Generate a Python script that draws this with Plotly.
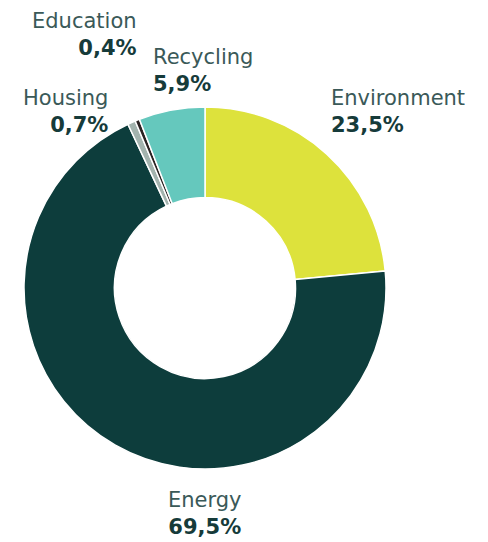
import plotly.graph_objects as go

categories = ["Environment", "Energy", "Housing", "Education", "Recycling"]
values = [23.5, 69.5, 0.7, 0.4, 5.9]
value_labels = ["23,5%", "69,5%", "0,7%", "0,4%", "5,9%"]
colors = ["#dde23c", "#0d3d3c", "#a3b3ae", "#2a2222", "#65c8bd"]

# page body has an 8px margin; figure fills the rest of the 488x542 window
OFF = 8
W, H = 488 - OFF, 542 - OFF


def fx(sx):
    return (sx - OFF) / W


def fy(sy):
    return 1 - (sy - OFF) / H


fig = go.Figure(go.Pie(
    labels=categories, values=values, sort=False, direction="clockwise",
    rotation=0, hole=0.5, textinfo="none", hoverinfo="label+percent",
    marker=dict(colors=colors, line=dict(color="white", width=1.5)),
    domain=dict(x=[fx(24), fx(386)], y=[fy(469), fy(107)]),
    showlegend=False,
))

# label placements in screen px: (index, x, y of first line center, anchor)
placements = [
    (0, 330, 97, "left"),
    (1, 205, 499, "center"),
    (2, 109, 97, "right"),
    (3, 138, 20, "right"),
    (4, 152, 56, "left"),
]
name_color = "#3a5958"
val_color = "#163b3a"
for i, px, py, anc in placements:
    fig.add_annotation(
        x=fx(px), y=fy(py + 14), xref="paper", yref="paper",
        xanchor=anc, yanchor="middle", align=anc, showarrow=False,
        borderpad=0,
        text=f"<span style='color:{name_color}'>{categories[i]}</span><br>"
             f"<b style='color:{val_color}'>{value_labels[i]}</b>",
        font=dict(family="DejaVu Sans", size=21, color=name_color),
    )

fig.update_layout(
    width=W, height=H, margin=dict(l=0, r=0, t=0, b=0),
    paper_bgcolor="white", plot_bgcolor="white",
)
fig.write_html("out.html")
